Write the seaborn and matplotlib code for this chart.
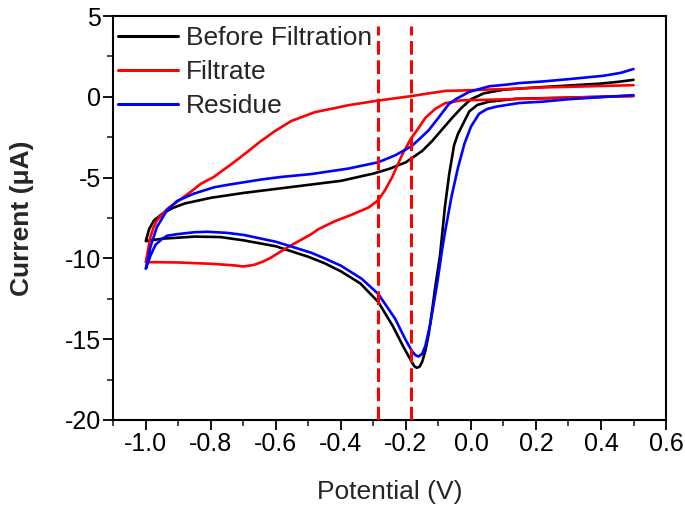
import pandas as pd
import matplotlib
matplotlib.use("Agg")
import matplotlib.pyplot as plt
from matplotlib.ticker import MultipleLocator
import seaborn as sns

# Series names and colours
SAMPLES = ["Before Filtration", "Filtrate", "Residue"]
COLORS = ["#000000", "#ff0000", "#0000ff"]

# x tick positions / labels
X_TICKS = [-1.0, -0.8, -0.6, -0.4, -0.2, 0.0, 0.2, 0.4, 0.6]
X_LABELS = ["-1.0", "-0.8", "-0.6", "-0.4", "-0.2", "0.0", "0.2", "0.4", "0.6"]

# Before Filtration - forward (upper) branch
BF_UP_E = [-1.000, -0.990, -0.975, -0.950, -0.920, -0.880, -0.800, -0.700, -0.600, -0.500,
           -0.400, -0.300, -0.250, -0.200, -0.150, -0.120, -0.090, -0.060, -0.030, 0.000,
           0.040, 0.100, 0.200, 0.300, 0.400, 0.450, 0.500]
BF_UP_I = [-8.93, -8.20, -7.65, -7.25, -6.90, -6.60, -6.25, -5.95, -5.70, -5.45,
           -5.20, -4.75, -4.45, -4.05, -3.35, -2.75, -2.05, -1.35, -0.70, -0.15,
           0.22, 0.44, 0.58, 0.70, 0.82, 0.92, 1.05]
# Before Filtration - reverse (lower) branch
BF_LO_E = [-1.000, -0.950, -0.850, -0.770, -0.700, -0.600, -0.500, -0.450, -0.400, -0.340,
           -0.285, -0.240, -0.207, -0.185, -0.175, -0.167, -0.158, -0.150, -0.140, -0.130,
           -0.120, -0.110, -0.095, -0.080, -0.067, -0.052, -0.040, -0.025, -0.005, 0.020,
           0.056, 0.140, 0.300, 0.400, 0.500]
BF_LO_I = [-8.93, -8.78, -8.65, -8.68, -8.88, -9.25, -9.90, -10.30, -10.80, -11.55,
           -12.70, -14.20, -15.50, -16.30, -16.65, -16.77, -16.70, -16.40, -15.70, -14.70,
           -13.30, -11.80, -9.80, -6.80, -4.80, -3.00, -2.30, -1.70, -0.90, -0.50,
           -0.30, -0.12, -0.05, 0.00, 0.06]

# Filtrate - upper branch
FI_UP_E = [-1.000, -0.986, -0.976, -0.966, -0.935, -0.894, -0.860, -0.832, -0.790, -0.770,
           -0.729, -0.687, -0.650, -0.605, -0.553, -0.480, -0.419, -0.377, -0.285, -0.181,
           -0.150, -0.078, -0.047, 0.015, 0.056, 0.097, 0.221, 0.304, 0.500]
FI_UP_I = [-10.20, -8.68, -8.06, -7.65, -6.95, -6.35, -5.85, -5.40, -4.95, -4.65,
           -4.05, -3.40, -2.80, -2.15, -1.50, -0.95, -0.70, -0.52, -0.23, 0.05,
           0.15, 0.37, 0.38, 0.42, 0.45, 0.47, 0.58, 0.62, 0.72]
# Filtrate - lower branch
FI_LO_E = [-1.000, -0.904, -0.801, -0.729, -0.700, -0.667, -0.640, -0.615, -0.563, -0.491,
           -0.470, -0.419, -0.367, -0.315, -0.285, -0.265, -0.243, -0.212, -0.185, -0.160,
           -0.140, -0.110, -0.080, -0.030, 0.056, 0.200, 0.355, 0.500]
FI_LO_I = [-10.23, -10.25, -10.33, -10.43, -10.50, -10.40, -10.20, -9.95, -9.30, -8.50,
           -8.20, -7.70, -7.30, -6.85, -6.40, -5.80, -5.00, -3.60, -2.60, -1.90,
           -1.30, -0.75, -0.40, -0.22, -0.18, -0.11, -0.02, 0.05]

# Residue - upper branch
RE_UP_E = [-1.000, -0.986, -0.966, -0.935, -0.904, -0.852, -0.790, -0.749, -0.646, -0.584,
           -0.491, -0.377, -0.285, -0.233, -0.182, -0.150, -0.130, -0.100, -0.068, -0.047,
           -0.006, 0.056, 0.108, 0.149, 0.221, 0.304, 0.407, 0.460, 0.500]
RE_UP_I = [-10.64, -9.30, -8.06, -7.03, -6.45, -5.99, -5.60, -5.45, -5.12, -4.96,
           -4.78, -4.44, -4.05, -3.62, -3.05, -2.45, -2.07, -1.30, -0.45, -0.15,
           0.30, 0.65, 0.75, 0.85, 0.95, 1.10, 1.30, 1.48, 1.72]
# Residue - lower branch
RE_LO_E = [-1.000, -0.985, -0.970, -0.950, -0.935, -0.904, -0.850, -0.811, -0.750, -0.698,
           -0.600, -0.563, -0.491, -0.450, -0.400, -0.336, -0.285, -0.233, -0.202, -0.181,
           -0.170, -0.161, -0.150, -0.140, -0.125, -0.104, -0.089, -0.080, -0.060, -0.040,
           -0.020, 0.000, 0.025, 0.050, 0.080, 0.150, 0.220, 0.300, 0.400, 0.500]
RE_LO_I = [-10.64, -9.80, -9.15, -8.80, -8.60, -8.50, -8.38, -8.35, -8.42, -8.55,
           -8.97, -9.20, -9.65, -10.00, -10.45, -11.26, -12.20, -13.74, -15.00, -15.75,
           -16.00, -16.07, -15.90, -15.40, -14.05, -11.57, -9.50, -8.40, -6.20, -4.40,
           -2.90, -1.85, -1.05, -0.75, -0.60, -0.38, -0.30, -0.15, -0.02, 0.10]

# marker lines (V)
DASH_POS = [-0.285, -0.185]
DASH_TOP = 4.4

branches = [
    (BF_UP_E, BF_UP_I, BF_LO_E, BF_LO_I),
    (FI_UP_E, FI_UP_I, FI_LO_E, FI_LO_I),
    (RE_UP_E, RE_UP_I, RE_LO_E, RE_LO_I),
]

# each loop: lower branch from +0.5 down to -1.0, then upper branch back to +0.5
rows = []
for name, (ue, ui, le, li) in zip(SAMPLES, branches):
    e = list(le[::-1]) + list(ue[1:])
    i = list(li[::-1]) + list(ui[1:])
    for k, (x, y) in enumerate(zip(e, i)):
        rows.append({"sample": name, "order": k, "E": x, "I": y})
df = pd.DataFrame(rows)

sns.set_style("ticks")
plt.rcParams["font.family"] = ["Liberation Sans", "DejaVu Sans"]
plt.rcParams["axes.unicode_minus"] = False

fig = plt.figure(figsize=(6.85, 5.07), dpi=100)
ax = fig.add_axes([0.1654, 0.1716, 0.8069, 0.7968])

sns.lineplot(data=df, x="E", y="I", hue="sample", hue_order=SAMPLES,
             palette=COLORS, sort=False, estimator=None, lw=1.9, ax=ax)

ax.vlines(DASH_POS, -20, DASH_TOP, colors="#ff0000", lw=2.2,
          linestyles=[(0, (4.5, 1.8))], zorder=6)

ax.set_xlim(-1.1, 0.6)
ax.set_ylim(-20, 5)
ax.set_xticks(X_TICKS)
ax.set_xticklabels(X_LABELS)
ax.xaxis.set_minor_locator(MultipleLocator(0.1))
ax.yaxis.set_major_locator(MultipleLocator(5))
ax.yaxis.set_minor_locator(MultipleLocator(2.5))

ax.tick_params(which="major", direction="out", length=7, width=1.3,
               labelsize=18, pad=2, colors="black")
ax.tick_params(which="minor", direction="out", length=4, width=1.2)
for s in ax.spines.values():
    s.set_linewidth(1.5)
    s.set_color("black")

ax.set_xlabel("Potential (V)", fontsize=19, labelpad=17)
ax.set_ylabel("Current (\u03bcA)", fontsize=19, fontweight="bold", labelpad=22)

leg = ax.legend(loc="upper left", bbox_to_anchor=(0.008, 0.975), frameon=False,
                fontsize=19, handlelength=2.3, handletextpad=0.3,
                labelspacing=0.38, borderaxespad=0, borderpad=0)
for h in leg.get_lines():
    h.set_linewidth(2.2)
leg.set_zorder(2)

fig.savefig("out.png", dpi=100)
